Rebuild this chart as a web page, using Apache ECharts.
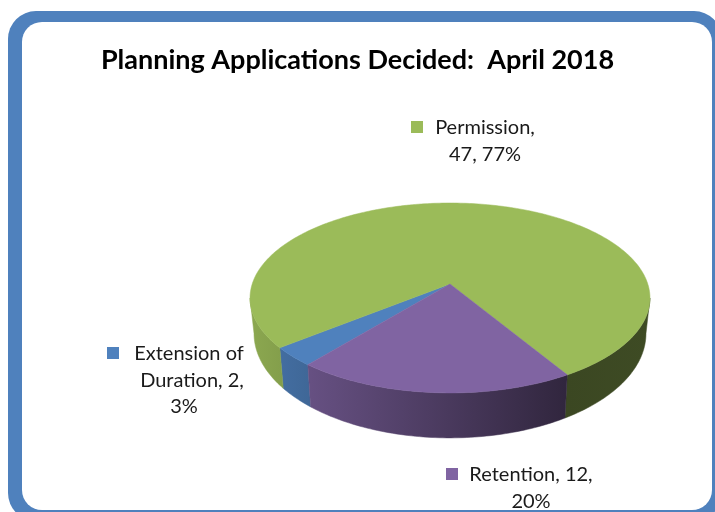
<!DOCTYPE html>
<html>
<head>
<meta charset="utf-8">
<style>
html, body { margin: 0; padding: 0; background: #fff; }
#chartBox { width: 715px; height: 512px; }
</style>
<script src="https://cdn.jsdelivr.net/npm/echarts@6/dist/echarts.min.js"></script>
</head>
<body>
<div id="chartBox"></div>
<script>
const titleText = 'Planning Applications Decided:  April 2018';
const categories = ['Extension of Duration', 'Permission', 'Retention'];
const values = [2, 47, 12];
const percents = [3, 77, 20];
const colors = ['#4F81BD', '#9BBB59', '#8064A2'];
const labelLines = [
    ['Extension of', 'Duration, 2,', '3%'],
    ['Permission,', '47, 77%'],
    ['Retention, 12,', '20%']
];

// layout of the tilted pie, apex sits above the middle of the ellipse because of perspective
const apexX = 450, apexY = 284;
const scaleX = 197.8, scaleY = 92.9, tilt = -0.147;
const firstAngle = 219.6;
const visibleFrom = 98.5, visibleTo = 261.5;

const keyPos = [[107, 347], [411, 121], [446, 468]];
const lineCenters = [[189, 192, 184], [485, 485], [531, 531]];
const lineTops = [354, 128, 475];
const lineGap = 26.5;

const total = values.reduce((a, b) => a + b, 0);
const spans = [];
let acc = firstAngle;
values.forEach(v => {
    let sweep = v / total * 360;
    spans.push([acc, acc + sweep]);
    acc += sweep;
});

// angle in degrees, clockwise from the back of the pie
function topPoint(deg) {
    let r = deg * Math.PI / 180;
    let X = Math.sin(r), Y = -Math.cos(r);
    let w = 1 + tilt * Y;
    return [apexX + scaleX * X / w, apexY + scaleY * Y / w];
}
function bottomPoint(deg) {
    let p = topPoint(deg);
    return [apexX + (p[0] - apexX) * 0.98, 333.5 + (p[1] - 298) * 1.1];
}
function shade(hex, f) {
    let n = parseInt(hex.slice(1), 16);
    let c = [n >> 16, (n >> 8) & 255, n & 255].map(v => Math.round(v * f));
    return 'rgb(' + c.join(',') + ')';
}
function sideFill(hex) {
    return new echarts.graphic.LinearGradient(250, 0, 650, 0, [
        { offset: 0, color: shade(hex, 0.9) },
        { offset: 0.15, color: shade(hex, 0.8) },
        { offset: 0.79, color: shade(hex, 0.38) },
        { offset: 1, color: shade(hex, 0.4) }
    ], true);
}

function renderTop(params, api) {
    let i = api.value(0);
    let s = spans[i];
    let pts = [[apexX, apexY]];
    for (let a = s[0]; a < s[1]; a += 1) pts.push(topPoint(a));
    pts.push(topPoint(s[1]));
    return {
        type: 'polygon',
        shape: { points: pts },
        style: { fill: colors[i], stroke: colors[i], lineWidth: 0.5 }
    };
}

function renderSide(params, api) {
    let i = api.value(0);
    let s = spans[i];
    let children = [];
    // a slice can wrap past 360, so test it against the front arc and the front arc one turn on
    [0, 360].forEach(turn => {
        let from = Math.max(s[0], visibleFrom + turn);
        let to = Math.min(s[1], visibleTo + turn);
        if (from >= to) return;
        let up = [], down = [];
        for (let a = from; a < to; a += 1) {
            up.push(topPoint(a));
            down.push(bottomPoint(a));
        }
        up.push(topPoint(to));
        down.push(bottomPoint(to));
        let fill = sideFill(colors[i]);
        children.push({
            type: 'polygon',
            shape: { points: up.concat(down.reverse()) },
            style: { fill: fill, stroke: fill, lineWidth: 0.5 }
        });
    });
    return { type: 'group', children: children };
}

function renderLabel(params, api) {
    let i = api.value(0);
    let children = [{
        type: 'rect',
        shape: { x: keyPos[i][0], y: keyPos[i][1], width: 12, height: 12 },
        style: { fill: colors[i] }
    }];
    labelLines[i].forEach((line, k) => {
        children.push({
            type: 'text',
            style: {
                text: line,
                x: lineCenters[i][k],
                y: lineTops[i] + k * lineGap,
                align: 'center',
                verticalAlign: 'middle',
                fill: '#1a1a1a',
                font: '20px Lato'
            }
        });
    });
    return { type: 'group', children: children };
}

const seriesData = values.map((v, i) => ({ name: categories[i], value: [i, v, percents[i]] }));

const chart = echarts.init(document.getElementById('chartBox'), null, { renderer: 'canvas' });
chart.setOption({
    animation: false,
    backgroundColor: '#fff',
    title: {
        text: titleText,
        left: 'center',
        top: 42,
        textStyle: { fontFamily: 'Lato', fontWeight: 'bold', fontSize: 27, color: '#000' }
    },
    graphic: [
        { type: 'rect', z: -2, shape: { x: 8, y: 11, width: 714, height: 510, r: 28 }, style: { fill: '#4F81BD' } },
        { type: 'rect', z: -1, shape: { x: 22, y: 22, width: 690, height: 488, r: 20 }, style: { fill: '#fff' } }
    ],
    series: [
        { type: 'custom', coordinateSystem: 'none', silent: true, z: 2, renderItem: renderSide, data: seriesData },
        { type: 'custom', coordinateSystem: 'none', silent: true, z: 3, renderItem: renderTop, data: seriesData },
        { type: 'custom', coordinateSystem: 'none', silent: true, z: 4, renderItem: renderLabel, data: seriesData }
    ]
});
</script>
</body>
</html>
